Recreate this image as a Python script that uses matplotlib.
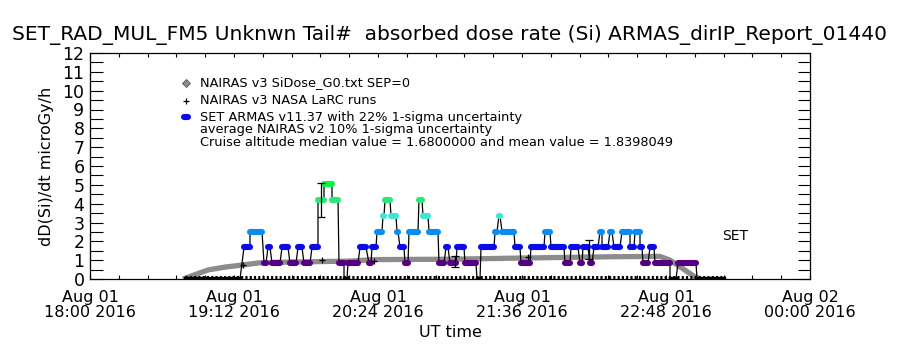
import matplotlib
matplotlib.use('Agg')
import matplotlib.pyplot as plt
import numpy as np

# ARMAS dose rate segments, minutes after 18:00 UT (start, end) and value
seg_start = [47.5, 77, 80, 87, 89, 91, 96, 100, 104, 107, 111, 114, 117, 121, 124.5,
             127, 129, 135, 139.5, 141, 143.5, 146.5, 147.5, 150.5, 153.5, 155, 157.5,
             159.5, 164.5, 166.5, 169.5, 174.5, 178, 180, 183.5, 187.5, 193.5, 195.5,
             202.5, 204.5, 206, 212.5, 215.5, 220.5, 227.5, 230.5, 237.5, 240.5, 245,
             246.5, 250, 252, 255, 256, 260, 262, 266, 270, 272.5, 275, 276.5, 280,
             282.5, 290, 294, 303.5]
seg_end = [75, 80, 86, 88, 90, 95, 99, 103, 106, 110, 114, 117, 121, 124, 127,
           128.5, 134, 138, 140.5, 143, 146, 147, 150, 153, 154, 157, 159,
           164, 166, 169, 174, 177, 179, 183, 187, 193, 195, 202,
           203.5, 205, 212, 215, 220, 227, 230, 237, 240, 244, 246,
           249, 251, 254, 256, 259, 261, 265, 270, 272, 275, 276, 279, 282,
           290, 293, 303, 317]
seg_value = [0, 1.68, 2.52, 0.84, 1.68, 0.84, 1.68, 0.84, 1.68, 0.84, 1.68, 4.2, 5.04, 4.2, 0.84,
             0, 0.84, 1.68, 0.84, 1.68, 2.52, 3.36, 4.2, 3.36, 2.52, 1.68, 0.84,
             2.52, 4.2, 3.36, 2.52, 0.84, 1.68, 0.84, 1.68, 0.84, 0, 1.68,
             2.52, 3.36, 2.52, 1.68, 0.84, 1.68, 2.52, 1.68, 0.84, 1.68, 0.84,
             1.68, 0.84, 1.68, 2.52, 1.68, 2.52, 1.68, 2.52, 1.68, 2.52, 1.68, 0.84, 1.68,
             0.84, 0, 0.84, 0]

# error bars on a few ARMAS points
err_t = [115.5, 182.5, 249.5]
err_v = [4.2, 0.93, 1.55]
err_e = [0.92, 0.29, 0.5]

# NAIRAS v3 SiDose model curve
nairas_t = [46.5, 59, 68, 76, 84, 100, 130, 142, 180, 220, 260, 285, 290, 302, 305]
nairas_v = [0.0, 0.48, 0.64, 0.74, 0.85, 0.9, 0.95, 1.03, 1.05, 1.12, 1.18, 1.2, 1.0, 0.15, 0.0]

# NAIRAS v3 NASA LaRC runs
nasa_t = [76.5, 116, 142, 219]
nasa_v = [0.72, 1.0, 0.97, 1.15]

# near-zero readings along the floor
floor_t = [47.5, 317.5]

xtick_labels = ['Aug 01\n18:00 2016', 'Aug 01\n19:12 2016', 'Aug 01\n20:24 2016',
                'Aug 01\n21:36 2016', 'Aug 01\n22:48 2016', 'Aug 02\n00:00 2016']

level_colors = {0: 'black', 0.84: '#55007f', 1.68: '#0a0aec', 2.52: '#0a8cf0',
                3.36: '#3ce6d2', 4.2: '#2ce678', 5.04: '#10f04c'}


def px(x, y):
    return x / 900, 1 - y / 350


fig = plt.figure(figsize=(9, 3.5), dpi=100)
ax = fig.add_axes([0.1, 1 - 279 / 350, 0.8, 226 / 350])

# NAIRAS band
ax.plot(nairas_t, nairas_v, color='#8c8c8c', lw=3.8, solid_capstyle='butt', zorder=2)

# floor hatch
ax.hlines(0.08, floor_t[0], floor_t[1], color='black', lw=2.2,
          linestyles=(0, (0.7, 0.7)), zorder=3)

# connecting line
xs, ys = [], []
for s, e, v in zip(seg_start, seg_end, seg_value):
    xs += [s, e]
    ys += [v, v]
ax.plot(xs, ys, color='black', lw=0.9, zorder=4)

for s, e, v in zip(seg_start, seg_end, seg_value):
    if v == 0:
        ax.plot([s, e], [0.06, 0.06], color='black', lw=2.4, zorder=4)
    else:
        ax.plot([s, e], [v, v], color=level_colors[v], lw=4.4,
                solid_capstyle='round', zorder=5)

ax.errorbar(err_t, err_v, yerr=err_e, fmt='none', ecolor='black', elinewidth=0.9,
            capsize=3, capthick=0.9, zorder=6)
ax.plot(nasa_t, nasa_v, '+', color='black', ms=4, mew=0.9, zorder=6)

ax.set_xlim(0, 360)
ax.set_ylim(0, 12)
ax.set_xticks(np.arange(0, 361, 72))
ax.set_xticks(np.arange(0, 361, 14.4), minor=True)
ax.set_xticklabels(xtick_labels, fontsize=11.5, linespacing=0.95)
ax.set_yticks(np.arange(0, 13, 1))
ax.set_yticks(np.arange(0, 12.5, 0.5), minor=True)
ax.tick_params(axis='y', which='both', direction='in', length=9, width=0.8,
               right=True, labelsize=12.5, pad=4)
ax.tick_params(axis='x', which='both', direction='in', length=3, width=0.8,
               top=True, pad=8)
for sp in ax.spines.values():
    sp.set_linewidth(0.9)

ax.set_ylabel('dD(Si)/dt microGy/h', fontsize=11.5, labelpad=6)
ax.set_xlabel('UT time', fontsize=11.5, labelpad=4)

fig.text(*px(450, 35), 'SET_RAD_MUL_FM5 Unknwn Tail#  absorbed dose rate (Si) ARMAS_dirIP_Report_01440',
         ha='center', va='center', fontsize=14.5)

# legend
fig.lines.append(plt.Line2D([186 / 900], [1 - 83 / 350], transform=fig.transFigure,
                            marker='D', ms=4.5, color='#8c8c8c', mec='#555555', mew=0.6))
fig.lines.append(plt.Line2D([186 / 900], [1 - 101 / 350], transform=fig.transFigure,
                            marker='+', ms=5, color='black', mew=0.9))
fig.lines.append(plt.Line2D([184 / 900, 188 / 900], [1 - 117 / 350] * 2, transform=fig.transFigure,
                            color='#0a0aec', lw=4.4, solid_capstyle='round'))
leg_font = 9.3
fig.text(*px(200, 83), 'NAIRAS v3 SiDose_G0.txt SEP=0', va='center', fontsize=leg_font)
fig.text(*px(200, 100), 'NAIRAS v3 NASA LaRC runs', va='center', fontsize=leg_font)
fig.text(*px(200, 117), 'SET ARMAS v11.37 with 22% 1-sigma uncertainty', va='center', fontsize=leg_font)
fig.text(*px(200, 129.5), 'average NAIRAS v2 10% 1-sigma uncertainty', va='center', fontsize=leg_font)
fig.text(*px(200, 143), 'Cruise altitude median value = 1.6800000 and mean value = 1.8398049',
         va='center', fontsize=leg_font)
fig.text(*px(722, 236), 'SET', va='center', fontsize=10)

fig.savefig('out.png', dpi=100)
